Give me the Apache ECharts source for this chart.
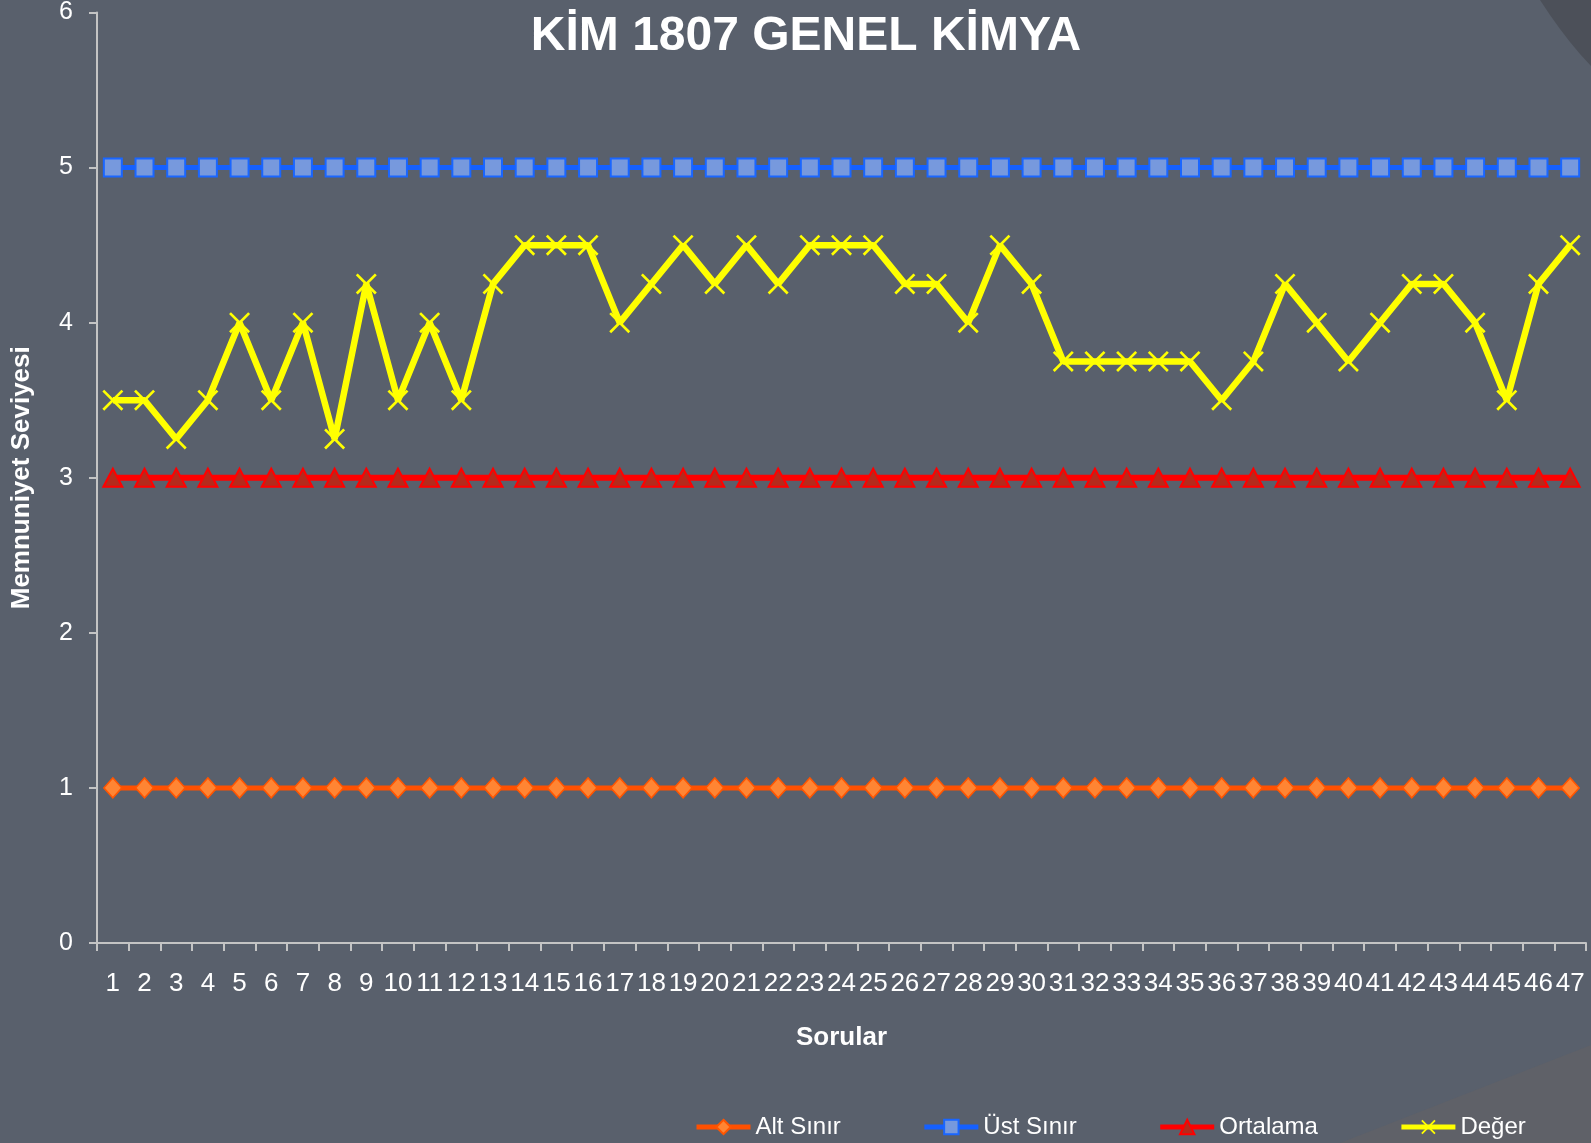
<!DOCTYPE html>
<html>
<head>
<meta charset="utf-8">
<script src="https://cdn.jsdelivr.net/npm/echarts@6/dist/echarts.min.js"></script>
<style>
html,body{margin:0;padding:0;background:#59606c;}
#c{width:1591px;height:1143px;}
</style>
</head>
<body>
<div id="c"></div>
<script>
const categories = Array.from({length:47},(_,i)=>String(i+1));
const altSinir = [1,1,1,1,1,1,1,1,1,1,1,1,1,1,1,1,1,1,1,1,1,1,1,1,1,1,1,1,1,1,1,1,1,1,1,1,1,1,1,1,1,1,1,1,1,1,1];
const ustSinir = [5,5,5,5,5,5,5,5,5,5,5,5,5,5,5,5,5,5,5,5,5,5,5,5,5,5,5,5,5,5,5,5,5,5,5,5,5,5,5,5,5,5,5,5,5,5,5];
const ortalama = [3,3,3,3,3,3,3,3,3,3,3,3,3,3,3,3,3,3,3,3,3,3,3,3,3,3,3,3,3,3,3,3,3,3,3,3,3,3,3,3,3,3,3,3,3,3,3];
const deger = [3.5,3.5,3.25,3.5,4,3.5,4,3.25,4.25,3.5,4,3.5,4.25,4.5,4.5,4.5,4,4.25,4.5,4.25,4.5,4.25,4.5,4.5,4.5,4.25,4.25,4,4.5,4.25,3.75,3.75,3.75,3.75,3.75,3.5,3.75,4.25,4,3.75,4,4.25,4.25,4,3.5,4.25,4.5];
const yTicks = [0,1,2,3,4,5,6];

const FONT = 'Liberation Sans, Arial, sans-serif';
const chart = echarts.init(document.getElementById('c'));
const xPath = 'path://M0,1.8L1.8,0L20,18.2L18.2,20Z M18.2,0L20,1.8L1.8,20L0,18.2Z';
chart.setOption({
  backgroundColor:'#59606c',
  animation:false,
  graphic:[
    {type:'polygon',silent:true,z:-1,shape:{points:[[1340,1143],[1591,1045],[1591,1143]]},style:{fill:'#5f6168'}},
    {type:'polygon',silent:true,z:-1,shape:{points:[[1540,0],[1550,15],[1560,29],[1570,42],[1580,54],[1591,66],[1591,0]]},style:{fill:'#4c5059'}}
  ],
  title:{
    text:'KİM 1807 GENEL KİMYA',
    left:801, top:8, textAlign:'center',
    textStyle:{color:'#ffffff',fontSize:48,fontWeight:'bold',fontFamily:FONT}
  },
  legend:{
    left:689, top:1110,
    itemWidth:54, itemHeight:18, itemGap:81,
    lineStyle:{width:5},
    textStyle:{color:'#ffffff',fontSize:24,fontFamily:FONT},
    data:['Alt Sınır','Üst Sınır','Ortalama','Değer']
  },
  grid:{left:97,right:5,top:12,bottom:200,containLabel:false},
  xAxis:{
    type:'category',
    data:categories,
    boundaryGap:true,
    name:'Sorular',
    nameLocation:'middle',
    nameGap:82,
    nameTextStyle:{color:'#ffffff',fontSize:26,fontWeight:'bold',fontFamily:FONT},
    axisLine:{lineStyle:{color:'#c4c4c4',width:2}},
    axisTick:{show:true,alignWithLabel:false,length:8,lineStyle:{color:'#c4c4c4',width:2}},
    axisLabel:{interval:0,color:'#ffffff',fontSize:26,margin:28,fontFamily:FONT},
    splitLine:{show:false}
  },
  yAxis:{
    type:'value',
    min:yTicks[0], max:yTicks[yTicks.length-1], interval:1,
    name:'Memnuniyet Seviyesi',
    nameLocation:'middle',
    nameGap:62,
    nameRotate:90,
    nameTextStyle:{color:'#ffffff',fontSize:26,fontWeight:'bold',fontFamily:FONT},
    axisLine:{show:true,lineStyle:{color:'#c4c4c4',width:2}},
    axisTick:{show:true,length:8,lineStyle:{color:'#c4c4c4',width:2}},
    axisLabel:{color:'#ffffff',fontSize:25,margin:24,fontFamily:FONT},
    splitLine:{show:false}
  },
  series:[
    {name:'Alt Sınır',type:'line',data:altSinir,symbol:'diamond',symbolSize:[18,20],
     lineStyle:{color:'#ff5000',width:5},
     itemStyle:{color:'#ff8533',borderColor:'#ff5500',borderWidth:1.5}},
    {name:'Üst Sınır',type:'line',data:ustSinir,symbol:'rect',symbolSize:18,
     lineStyle:{color:'#1560ff',width:5},
     itemStyle:{color:'#7799dd',borderColor:'#1a66ff',borderWidth:2}},
    {name:'Ortalama',type:'line',data:ortalama,symbol:'triangle',symbolSize:[19,18],
     lineStyle:{color:'#ff0000',width:6},
     itemStyle:{color:'#b52a1c',borderColor:'#ff0000',borderWidth:2}},
    {name:'Değer',type:'line',data:deger,symbol:xPath,symbolSize:21,
     lineStyle:{color:'#ffff00',width:6.5},
     itemStyle:{color:'#ffff00'}}
  ]
});
</script>
</body>
</html>
